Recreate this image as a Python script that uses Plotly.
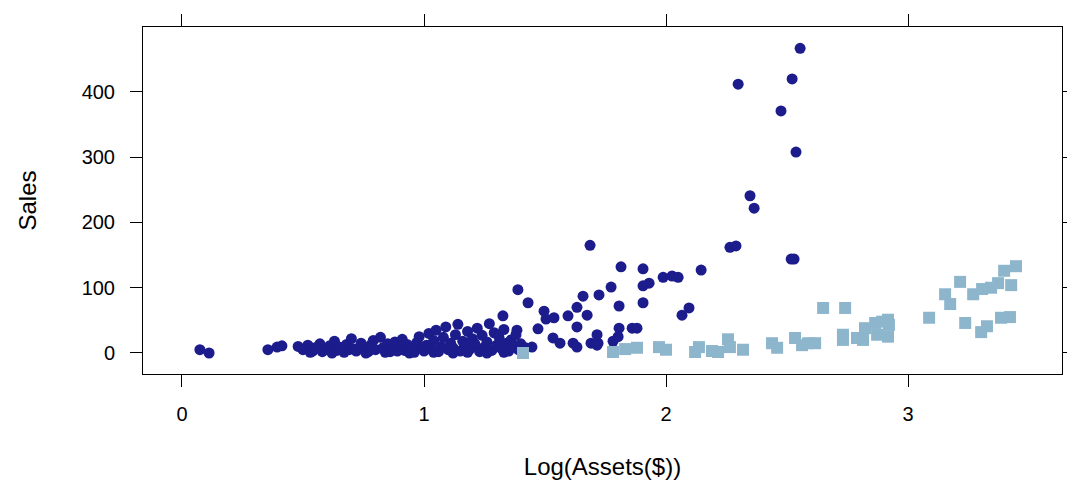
import plotly.graph_objects as go

# group 1: dark circles (log assets, sales)
circ_x = [0.074, 0.112, 0.355, 0.393, 0.413,
          0.48, 0.50, 0.52, 0.53, 0.54, 0.55, 0.57, 0.58, 0.60, 0.61, 0.62, 0.63, 0.64, 0.65,
          0.67, 0.68, 0.69, 0.70, 0.71, 0.72, 0.74, 0.75, 0.76, 0.77, 0.78, 0.79, 0.80, 0.82,
          0.83, 0.84, 0.85, 0.86, 0.87, 0.88, 0.89, 0.90, 0.91, 0.92, 0.93, 0.94, 0.95, 0.96,
          0.97, 0.98, 0.99, 1.00, 1.01, 1.02, 1.03, 1.04, 1.04, 1.05, 1.06, 1.07, 1.08, 1.09,
          1.10, 1.11, 1.12, 1.12, 1.13, 1.14, 1.15, 1.16, 1.17, 1.18, 1.18, 1.19, 1.20, 1.21,
          1.22, 1.23, 1.24, 1.25, 1.26, 1.26, 1.27, 1.28, 1.29, 1.30, 1.31, 1.32, 1.33, 1.33,
          1.34, 1.35, 1.36, 1.37, 1.38, 1.39, 1.40, 1.42,
          1.326, 1.384, 1.388, 1.430, 1.446, 1.471, 1.496, 1.504, 1.533, 1.537, 1.562, 1.595,
          1.616, 1.632, 1.632, 1.632, 1.657, 1.674, 1.686, 1.690, 1.715, 1.715, 1.719, 1.723,
          1.773, 1.781, 1.802, 1.806, 1.806, 1.814, 1.860, 1.880, 1.905, 1.905, 1.905, 1.930,
          1.988, 2.025, 2.050, 2.066, 2.095, 2.145, 2.264, 2.289, 2.298, 2.347, 2.364, 2.475,
          2.517, 2.521, 2.529, 2.537, 2.554]
circ_y = [5, 0, 5, 9, 11,
          10, 5, 12, 1, 3, 8, 14, 2, 6, 11, 0, 18, 4, 9,
          1, 13, 5, 22, 6, 3, 15, 9, 0, 2, 12, 19, 5, 24,
          8, 1, 14, 2, 6, 17, 3, 10, 21, 4, 13, 0, 7, 1,
          16, 25, 9, 3, 12, 30, 6, 19, 1, 35, 2, 10, 24, 40,
          5, 15, 8, 0, 28, 44, 3, 18, 11, 33, 1, 6, 22, 14,
          38, 2, 27, 9, 17, 0, 45, 4, 31, 12, 24, 7, 36, 1,
          15, 3, 20, 10, 28, 5, 14, 8,
          57, 35, 97, 77, 9, 37, 64, 52, 23, 54, 15, 57,
          15, 9, 40, 70, 87, 58, 165, 15, 28, 12, 15, 89,
          101, 18, 25, 38, 72, 132, 38, 38, 129, 103, 77, 107,
          116, 118, 116, 58, 69, 127, 162, 164, 412, 241, 222, 371,
          144, 420, 144, 308, 467]

# group 2: light squares
sq_x = [1.409, 1.781, 1.831, 1.880, 1.971, 2.000, 2.120, 2.136, 2.190, 2.215, 2.256, 2.264,
        2.318, 2.438, 2.459, 2.533, 2.562, 2.587, 2.616, 2.649, 2.731, 2.731, 2.740, 2.789,
        2.814, 2.822, 2.864, 2.872, 2.893, 2.917, 2.917, 2.921, 3.087, 3.153, 3.174, 3.215,
        3.236, 3.269, 3.302, 3.306, 3.326, 3.343, 3.372, 3.384, 3.397, 3.421, 3.426, 3.446]
sq_y = [0, 1.5, 6, 8, 9, 5, 1.5, 9, 3, 1.5, 21, 9,
        5, 15, 8, 23, 12, 15, 15, 69, 28, 20, 69, 23,
        20, 38, 46, 28, 48, 51, 25, 43, 54, 90, 75, 109,
        46, 90, 32, 98, 41, 100, 107, 54, 126, 55, 104, 133]

fig = go.Figure()
fig.add_trace(go.Scatter(x=circ_x, y=circ_y, mode="markers",
                         marker=dict(symbol="circle", size=11, color="#1c1c8c", line=dict(width=0))))
fig.add_trace(go.Scatter(x=sq_x, y=sq_y, mode="markers",
                         marker=dict(symbol="square", size=12, color="#8db6cd", line=dict(width=0))))

axis_common = dict(showgrid=False, zeroline=False, showline=True, linecolor="black", linewidth=1,
                   mirror="ticks", ticks="outside", ticklen=12, tickcolor="black", tickwidth=1,
                   tickfont=dict(size=20, color="black"), automargin=False)
# page body adds an 8px offset, so margins are shifted to compensate
fig.update_layout(
    width=1075, height=484, showlegend=False,
    paper_bgcolor="white", plot_bgcolor="white",
    font=dict(family="Liberation Sans, Arial, sans-serif", color="black"),
    margin=dict(l=135, r=21, t=19, b=118),
    xaxis=dict(range=[-0.161, 3.636], tickvals=[0, 1, 2, 3], ticklabelstandoff=10,
               title=dict(text="Log(Assets($))", font=dict(size=24), standoff=34), **axis_common),
    yaxis=dict(range=[-32.2, 499.6], tickvals=[0, 100, 200, 300, 400], ticklabelstandoff=11,
               title=dict(text="Sales", font=dict(size=24), standoff=38), **axis_common),
)
fig.write_html("out.html")
